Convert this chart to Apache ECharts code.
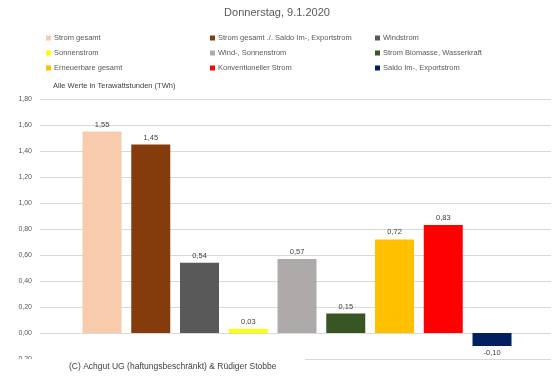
<!DOCTYPE html>
<html><head><meta charset="utf-8">
<script src="https://cdn.jsdelivr.net/npm/echarts@6/dist/echarts.min.js"></script>
<style>html,body{margin:0;padding:0;background:#fff}#c{width:554px;height:382px}</style>
</head><body><div id="c"></div>
<script>
const categories = ["Strom gesamt","Strom gesamt ./. Saldo Im-, Exportstrom","Windstrom","Sonnenstrom","Wind-, Sonnenstrom","Strom Biomasse, Wasserkraft","Erneuerbare gesamt","Konventioneller Strom","Saldo Im-, Exportstrom"];
const values = [1.55, 1.45, 0.54, 0.03, 0.57, 0.15, 0.72, 0.83, -0.10];
const colors = ["#F8CBAD","#843C0C","#595959","#FFFF00","#AEAAAA","#375623","#FFC000","#FF0000","#002060"];
const yTicks = {min: -0.2, max: 1.8, interval: 0.2};
const titleText = "Donnerstag, 9.1.2020";
const unitText = "Alle Werte in Terawattstunden (TWh)";
const copyText = "(C) Achgut UG (haftungsbeschränkt) & Rüdiger Stobbe";

const FONT = "Liberation Sans";
const fmt = v => v.toFixed(2).replace('.', ',');
const chart = echarts.init(document.getElementById('c'), null, {renderer:'canvas'});
const series = categories.map((name, i) => ({
  name, type: 'bar', stack: 'all', barWidth: 39,
  itemStyle: {color: colors[i]},
  label: {show: true, position: values[i] < 0 ? 'bottom' : 'top', distance: 3,
    formatter: p => fmt(p.value[1]), fontFamily: FONT, fontSize: 7.5, color: '#404040'},
  data: [[i + 1, values[i]]]
}));
const legendCol = (idx, left) => ({
  orient: 'vertical', left, top: 33, padding: 0, itemWidth: 5, itemHeight: 5, itemGap: 5,
  icon: 'rect', selectedMode: false,
  data: idx.map(i => categories[i]),
  textStyle: {fontFamily: FONT, fontSize: 7.5, color: '#595959', lineHeight: 10, padding: [0,0,0,-2]}
});
chart.setOption({
  animation: false,
  backgroundColor: '#fff',
  title: {text: titleText, left: 'center', top: 2,
    textStyle: {fontFamily: FONT, fontSize: 11, fontWeight: 'normal', color: '#595959'}},
  legend: [legendCol([0,3,6], 46), legendCol([1,4,7], 210), legendCol([2,5,8], 375)],
  grid: {left: 40, right: 3, top: 99, bottom: 23, containLabel: false},
  xAxis: {type: 'value', min: -0.272, max: 10.21, show: false},
  yAxis: {type: 'value', min: yTicks.min, max: yTicks.max, interval: yTicks.interval,
    axisLine: {show: false}, axisTick: {show: false},
    splitLine: {lineStyle: {color: '#D9D9D9', width: 1}},
    axisLabel: {formatter: fmt, fontFamily: FONT, fontSize: 7, color: '#595959', margin: 8}},
  graphic: [
    {type: 'text', left: 53, top: 82, style: {text: unitText, font: '7.5px ' + FONT, fill: '#404040'}},
    {type: 'rect', shape: {x: 10, y: 359, width: 295, height: 23}, style: {fill: '#fff'}, z: 100},
    {type: 'text', left: 69, top: 362, z: 101, style: {text: copyText, font: '8.5px ' + FONT, fill: '#404040'}}
  ],
  series
});
</script></body></html>
